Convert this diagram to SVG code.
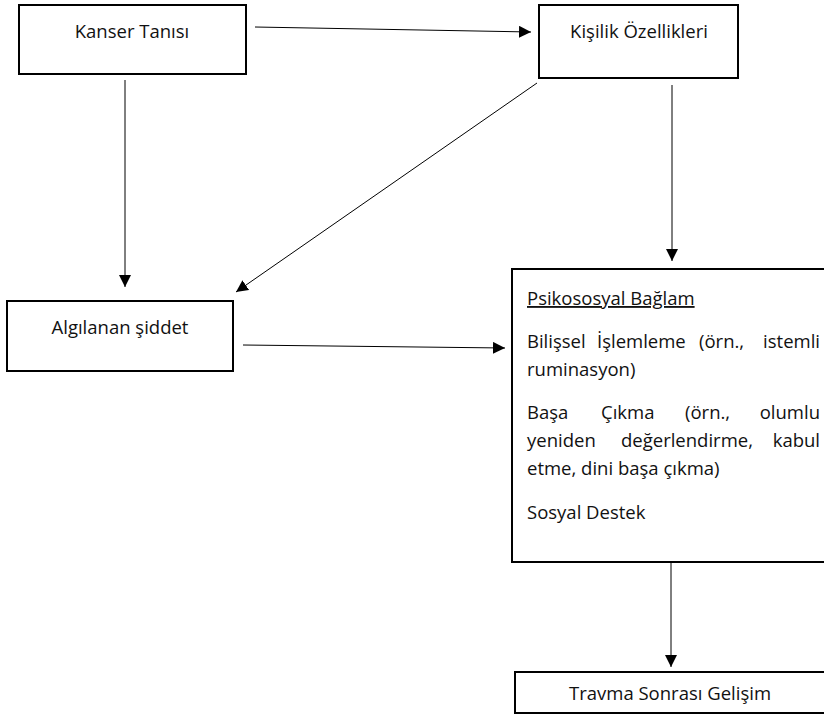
<svg xmlns="http://www.w3.org/2000/svg" width="824" height="726" viewBox="0 0 824 726">
<style>
.box{fill:#fff;stroke:#000;stroke-width:2}
.t{font-family:"Open Sans","Liberation Sans",sans-serif;font-size:18.5px;fill:#111}
.c{text-anchor:middle}
.ln{stroke:#000;stroke-width:1;fill:none;marker-end:url(#ah)}
</style>
<defs>
<marker id="ah" viewBox="0 0 10 10" refX="10" refY="5" markerWidth="12" markerHeight="12" markerUnits="userSpaceOnUse" orient="auto">
<path d="M0,0 L10,5 L0,10 z" fill="#000"/>
</marker>
</defs>
<rect width="824" height="726" fill="#fff"/>
<g id="connectors">
<line class="ln" x1="255" y1="27" x2="531" y2="32"/>
<line class="ln" x1="125" y1="80" x2="125" y2="287"/>
<line class="ln" x1="537" y1="83" x2="236" y2="292"/>
<line class="ln" x1="672" y1="85" x2="672" y2="261"/>
<line class="ln" x1="243" y1="345" x2="505" y2="348"/>
<line class="ln" x1="671" y1="563" x2="671" y2="667"/>
</g>
<g id="kanser">
<rect class="box" x="19" y="5" width="227" height="69"/>
<text class="t c" x="132" y="38">Kanser Tanısı</text>
</g>
<g id="kisilik">
<rect class="box" x="539" y="5" width="199" height="73"/>
<text class="t c" x="639" y="38">Kişilik Özellikleri</text>
</g>
<g id="algilanan">
<rect class="box" x="7" y="301" width="226" height="70"/>
<text class="t c" x="120" y="334">Algılanan şiddet</text>
</g>
<g id="psikososyal">
<rect class="box" x="512" y="269" width="320" height="293"/>
<text class="t" x="527" y="305" text-decoration="underline">Psikososyal Bağlam</text>
<text class="t" y="348"><tspan x="527">Bilişsel</tspan><tspan x="597">İşlemleme</tspan><tspan x="699">(örn.,</tspan><tspan x="820" text-anchor="end">istemli</tspan></text>
<text class="t" x="527" y="376">ruminasyon)</text>
<text class="t" y="419"><tspan x="527">Başa</tspan><tspan x="601">Çıkma</tspan><tspan x="685">(örn.,</tspan><tspan x="820" text-anchor="end">olumlu</tspan></text>
<text class="t" y="447"><tspan x="527">yeniden</tspan><tspan x="621">değerlendirme,</tspan><tspan x="820" text-anchor="end">kabul</tspan></text>
<text class="t" x="527" y="475">etme, dini başa çıkma)</text>
<text class="t" x="527" y="519">Sosyal Destek</text>
</g>
<g id="travma">
<rect class="box" x="515" y="672" width="320" height="41"/>
<text class="t c" x="670" y="700">Travma Sonrası Gelişim</text>
</g>
</svg>
